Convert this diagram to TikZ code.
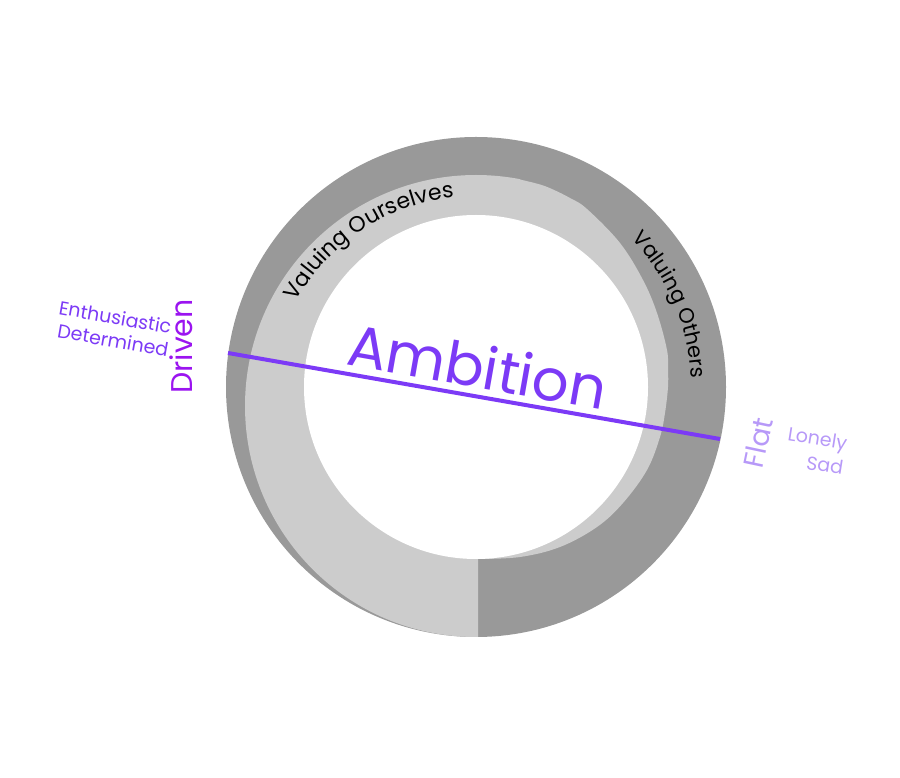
\documentclass[tikz,border=0pt]{standalone}
\usepackage{fontspec}
\setmainfont{Poppins}
\usetikzlibrary{decorations.text}
\definecolor{ringdark}{HTML}{999999}
\definecolor{ringlight}{HTML}{CCCCCC}
\definecolor{ambi}{RGB}{124,58,246}
\definecolor{drive}{RGB}{155,20,240}
\definecolor{flatc}{RGB}{183,153,248}
\begin{document}
\begin{tikzpicture}[x=1pt,y=1pt,
  lbl/.style={inner sep=0pt, outer sep=0pt},
  arclabel/.style={decorate, decoration={text along path, text align=center, text={#1}}}]
\useasboundingbox (0,0) rectangle (900,777);
% ring
\fill[ringdark] (476,390) circle[radius=250];
\begin{scope}
\clip (478,100) -- plot[smooth, tension=0.6] coordinates {(478,218) (520,220) (560,230) (597,250) (623,274) (647,307) (660,340) (665,364) (668,390) (668,407) (667,427) (657,464) (643,497) (620,534) (587,568) (570,579) (553,587.5) (540,592.5) (520,597.5)} -- (520,700) -- (100,700) -- (100,100) -- cycle;
\fill[ringlight] (476,371) circle[radius=231];
\end{scope}
\fill[white] (476,390) circle[radius=172];
% arc labels
\path[arclabel={|\fontsize{22}{26}\selectfont|Valuing Ourselves}] (476,375) ++(156:206) arc[start angle=156, end angle=91, radius=206];
\path[arclabel={|\fontsize{21}{25}\selectfont|Valuing Others}] (476,390) ++(48:215) arc[start angle=48, end angle=-2, radius=215];
% axis line
\coordinate (lineL) at (228,424);
\coordinate (lineR) at (720,338);
\draw[ambi, line width=4pt] (lineL) -- (lineR);
% texts
\node[lbl, anchor=base, rotate=-10, text=ambi, font=\fontsize{58}{62}\selectfont] (ambition) at (474,389.5) {Ambition};
\node[lbl, anchor=base, rotate=90, text=drive, font=\fontsize{30}{34}\selectfont] (driven) at (192,430.5) {Driven};
\node[lbl, anchor=base east, rotate=-10, text=ambi, font=\fontsize{19}{22}\selectfont] (enth) at (170,443) {Enthusiastic};
\node[lbl, anchor=base east, rotate=-10, text=ambi, font=\fontsize{19}{22}\selectfont] (det) at (167,420) {Determined};
\node[lbl, anchor=base, rotate=78, text=flatc, font=\fontsize{28}{32}\selectfont] (flat) at (768,332) {Flat};
\node[lbl, anchor=base east, rotate=-9, text=flatc, font=\fontsize{19}{22}\selectfont] (lonely) at (846,327) {Lonely};
\node[lbl, anchor=base east, rotate=-9, text=flatc, font=\fontsize{19}{22}\selectfont] (sad) at (842,302) {Sad};
\end{tikzpicture}
\end{document}
